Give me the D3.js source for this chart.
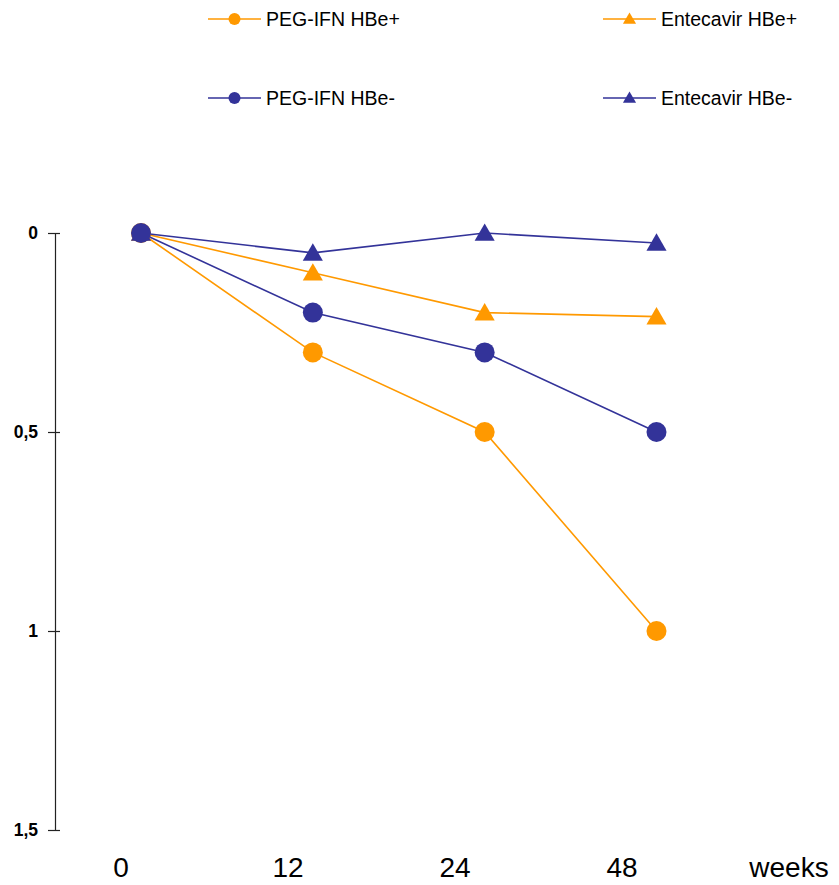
<!DOCTYPE html>
<html>
<head>
<meta charset="utf-8">
<script src="https://cdn.jsdelivr.net/npm/d3@7"></script>
<style>
  html, body { margin: 0; padding: 0; background: #fff; }
  svg { display: block; }
</style>
</head>
<body>
<svg id="chart" width="839" height="885"></svg>
<script>
// ---- Data ----
const timepoints = ["0", "12", "24", "48"];
const xAxisLabels = ["0", "12", "24", "48", "weeks"];
const yTicks = [0, 0.5, 1, 1.5];
const seriesNames = ["PEG-IFN HBe+", "Entecavir HBe+", "PEG-IFN HBe-", "Entecavir HBe-"];
const pegHBePos = [0, 0.3, 0.5, 1.0];
const entHBePos = [0, 0.1, 0.2, 0.21];
const pegHBeNeg = [0, 0.2, 0.3, 0.5];
const entHBeNeg = [0, 0.05, 0, 0.025];

const ORANGE = "#FF9900";
const BLUE = "#333399";

const series = [
  { name: seriesNames[1], values: entHBePos, color: ORANGE, shape: "triangle" },
  { name: seriesNames[0], values: pegHBePos, color: ORANGE, shape: "circle" },
  { name: seriesNames[3], values: entHBeNeg, color: BLUE, shape: "triangle" },
  { name: seriesNames[2], values: pegHBeNeg, color: BLUE, shape: "circle" }
];

const svg = d3.select("#chart");

// ---- Scales ----
const x = d3.scalePoint().domain(timepoints).range([141, 656.5]);
const y = d3.scaleLinear().domain([0, 1.5]).range([233, 830]);
const xLab = d3.scalePoint().domain(xAxisLabels).range([121, 789]);

// ---- Y axis ----
const yAxis = d3.axisLeft(y)
  .tickValues(yTicks)
  .tickSize(0)
  .tickPadding(17)
  .tickFormat(d => d3.format("")(d).replace(".", ","));
const yg = svg.append("g").attr("transform", "translate(55,0)").call(yAxis);
yg.select(".domain").attr("stroke", "#222").attr("stroke-width", 1.2);
yg.selectAll(".tick line").remove();
yg.selectAll(".tick").append("line")
  .attr("x1", -7).attr("x2", 5).attr("y1", 0).attr("y2", 0)
  .attr("stroke", "#222").attr("stroke-width", 1.2);
yg.selectAll(".tick text")
  .attr("fill", "#000")
  .style("font-family", "Arial, 'Liberation Sans', sans-serif")
  .style("font-weight", "bold")
  .style("font-size", "17.5px");

// ---- X labels ----
svg.append("g").selectAll("text")
  .data(xAxisLabels)
  .join("text")
  .attr("x", d => xLab(d))
  .attr("y", 877)
  .attr("text-anchor", "middle")
  .style("font-family", "Arial, 'Liberation Sans', sans-serif")
  .style("font-size", "28px")
  .attr("fill", "#000")
  .text(d => d);

// ---- Lines ----
const line = d3.line().x((d, i) => x(timepoints[i])).y(d => y(d));
const triPath = d3.symbol().type(d3.symbolTriangle);

svg.append("g").selectAll("path")
  .data(series)
  .join("path")
  .attr("d", s => line(s.values))
  .attr("fill", "none")
  .attr("stroke", s => s.color)
  .attr("stroke-width", 1.6);

// ---- Markers ----
function drawMarker(g, shape, color, cx, cy, big) {
  if (shape === "circle") {
    g.append("circle").attr("cx", cx).attr("cy", cy)
      .attr("r", big ? 10 : 6).attr("fill", color);
  } else {
    const sz = big ? 175 : 75;
    g.append("path")
      .attr("d", triPath.size(sz)())
      .attr("transform", `translate(${cx},${cy + (big ? 2 : 1)})`)
      .attr("fill", color);
  }
}

const mg = svg.append("g");
series.forEach(s => {
  s.values.forEach((v, i) => {
    drawMarker(mg, s.shape, s.color, x(timepoints[i]), y(v), true);
  });
});

// ---- Legend ----
const legendItems = [
  { name: seriesNames[0], color: ORANGE, shape: "circle", col: 0, row: 0 },
  { name: seriesNames[1], color: ORANGE, shape: "triangle", col: 1, row: 0 },
  { name: seriesNames[2], color: BLUE, shape: "circle", col: 0, row: 1 },
  { name: seriesNames[3], color: BLUE, shape: "triangle", col: 1, row: 1 }
];
const colX = d3.scalePoint().domain([0, 1]).range([208, 603]);
const rowY = d3.scalePoint().domain([0, 1]).range([19, 98]);
const lg = svg.append("g");
legendItems.forEach(it => {
  const lx = colX(it.col), ly = rowY(it.row);
  lg.append("line").attr("x1", lx).attr("x2", lx + 53).attr("y1", ly).attr("y2", ly)
    .attr("stroke", it.color).attr("stroke-width", 1.6);
  drawMarker(lg, it.shape, it.color, lx + 26.5, ly, false);
  lg.append("text").attr("x", lx + 58).attr("y", ly + 7)
    .style("font-family", "Arial, 'Liberation Sans', sans-serif")
    .style("font-size", "19.5px")
    .attr("fill", "#000")
    .text(it.name);
});
</script>
</body>
</html>
